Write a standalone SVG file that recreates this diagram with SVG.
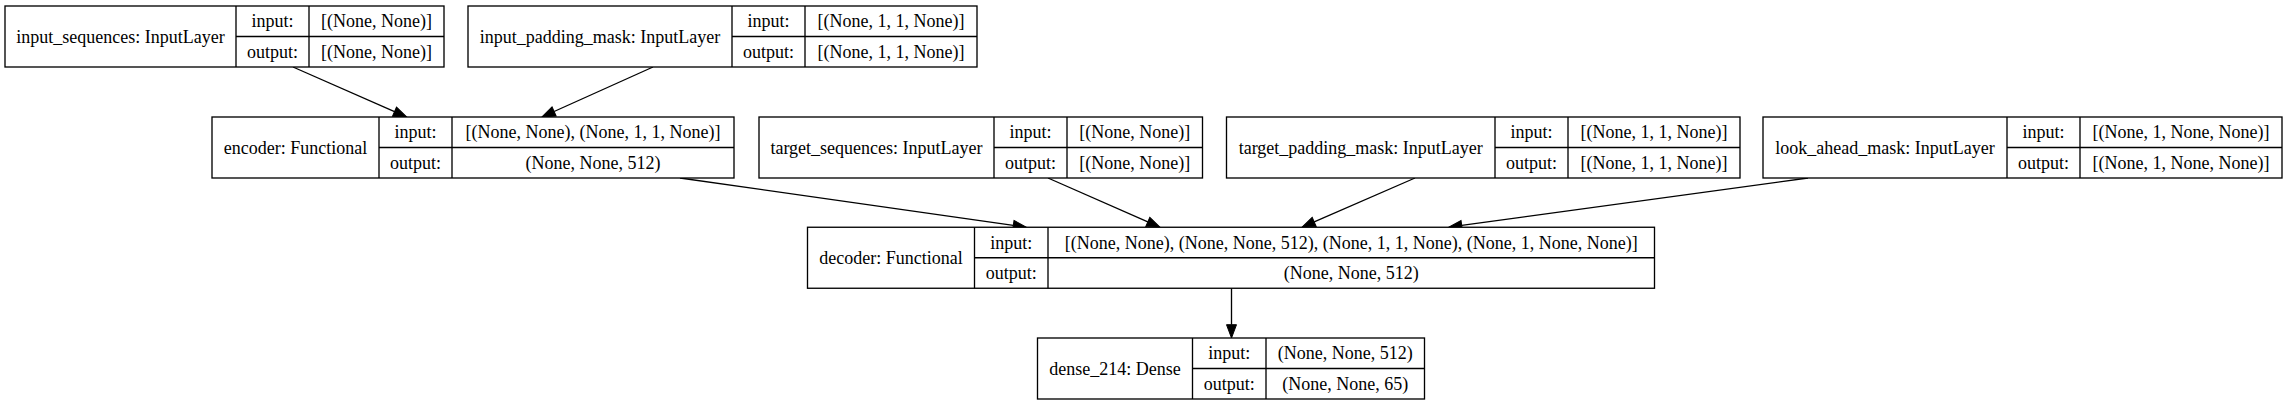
<svg xmlns="http://www.w3.org/2000/svg" width="2288" height="405" viewBox="0 0 2288 405">
<style>
.box{fill:#fff;stroke:#000;stroke-width:1.33}
.div{stroke:#000;stroke-width:1.33}
.edge{stroke:#000;stroke-width:1.33;fill:none}
text{font-family:"Liberation Serif","Times New Roman",serif;font-size:18px;fill:#000;text-anchor:middle}
</style>
<defs>
<marker id="arr" markerUnits="userSpaceOnUse" markerWidth="16" markerHeight="12" refX="0" refY="5" orient="auto" overflow="visible">
<path d="M0,0 L13.3,5 L0,10 Z" fill="#000" stroke="#000" stroke-width="1"/>
</marker>
</defs>
<rect width="2288" height="405" fill="#fff"/>

<g id="connectors">
<line class="edge" x1="293" y1="67" x2="394.5" y2="111.65" marker-end="url(#arr)"/>
<line class="edge" x1="653" y1="67" x2="554.1" y2="111.5" marker-end="url(#arr)"/>
<line class="edge" x1="680" y1="178" x2="1013.3" y2="225.4" marker-end="url(#arr)"/>
<line class="edge" x1="1048" y1="178" x2="1147.8" y2="221.9" marker-end="url(#arr)"/>
<line class="edge" x1="1415" y1="178" x2="1314.2" y2="221.9" marker-end="url(#arr)"/>
<line class="edge" x1="1808" y1="178" x2="1461.7" y2="225.4" marker-end="url(#arr)"/>
<line class="edge" x1="1231.5" y1="288.25" x2="1231.5" y2="324.7" marker-end="url(#arr)"/>
</g>

<g id="input_sequences">
<rect class="box" x="5" y="6" width="439" height="61"/>
<line class="div" x1="236" y1="6" x2="236" y2="67"/>
<line class="div" x1="309" y1="6" x2="309" y2="67"/>
<line class="div" x1="236" y1="36.5" x2="444" y2="36.5"/>
<text x="120.5" y="42.5">input_sequences: InputLayer</text>
<text x="272.5" y="27.25">input:</text>
<text x="272.5" y="57.75">output:</text>
<text x="376.5" y="27.25">[(None, None)]</text>
<text x="376.5" y="57.75">[(None, None)]</text>
</g>

<g id="input_padding_mask">
<rect class="box" x="468" y="6" width="509" height="61"/>
<line class="div" x1="732" y1="6" x2="732" y2="67"/>
<line class="div" x1="805" y1="6" x2="805" y2="67"/>
<line class="div" x1="732" y1="36.5" x2="977" y2="36.5"/>
<text x="600" y="42.5">input_padding_mask: InputLayer</text>
<text x="768.5" y="27.25">input:</text>
<text x="768.5" y="57.75">output:</text>
<text x="891" y="27.25">[(None, 1, 1, None)]</text>
<text x="891" y="57.75">[(None, 1, 1, None)]</text>
</g>

<g id="encoder">
<rect class="box" x="212" y="117" width="522" height="61"/>
<line class="div" x1="379" y1="117" x2="379" y2="178"/>
<line class="div" x1="452" y1="117" x2="452" y2="178"/>
<line class="div" x1="379" y1="147.5" x2="734" y2="147.5"/>
<text x="295.5" y="153.5">encoder: Functional</text>
<text x="415.5" y="138.25">input:</text>
<text x="415.5" y="168.75">output:</text>
<text x="593" y="138.25">[(None, None), (None, 1, 1, None)]</text>
<text x="593" y="168.75">(None, None, 512)</text>
</g>

<g id="target_sequences">
<rect class="box" x="759" y="117" width="443.5" height="61"/>
<line class="div" x1="994" y1="117" x2="994" y2="178"/>
<line class="div" x1="1067" y1="117" x2="1067" y2="178"/>
<line class="div" x1="994" y1="147.5" x2="1202.5" y2="147.5"/>
<text x="876.5" y="153.5">target_sequences: InputLayer</text>
<text x="1030.5" y="138.25">input:</text>
<text x="1030.5" y="168.75">output:</text>
<text x="1134.75" y="138.25">[(None, None)]</text>
<text x="1134.75" y="168.75">[(None, None)]</text>
</g>

<g id="target_padding_mask">
<rect class="box" x="1226.5" y="117" width="513.5" height="61"/>
<line class="div" x1="1495" y1="117" x2="1495" y2="178"/>
<line class="div" x1="1568" y1="117" x2="1568" y2="178"/>
<line class="div" x1="1495" y1="147.5" x2="1740" y2="147.5"/>
<text x="1360.75" y="153.5">target_padding_mask: InputLayer</text>
<text x="1531.5" y="138.25">input:</text>
<text x="1531.5" y="168.75">output:</text>
<text x="1654" y="138.25">[(None, 1, 1, None)]</text>
<text x="1654" y="168.75">[(None, 1, 1, None)]</text>
</g>

<g id="look_ahead_mask">
<rect class="box" x="1763" y="117" width="519" height="61"/>
<line class="div" x1="2007" y1="117" x2="2007" y2="178"/>
<line class="div" x1="2080" y1="117" x2="2080" y2="178"/>
<line class="div" x1="2007" y1="147.5" x2="2282" y2="147.5"/>
<text x="1885" y="153.5">look_ahead_mask: InputLayer</text>
<text x="2043.5" y="138.25">input:</text>
<text x="2043.5" y="168.75">output:</text>
<text x="2181" y="138.25">[(None, 1, None, None)]</text>
<text x="2181" y="168.75">[(None, 1, None, None)]</text>
</g>

<g id="decoder">
<rect class="box" x="807.5" y="227.25" width="847" height="61"/>
<line class="div" x1="974.5" y1="227.25" x2="974.5" y2="288.25"/>
<line class="div" x1="1048" y1="227.25" x2="1048" y2="288.25"/>
<line class="div" x1="974.5" y1="257.75" x2="1654.5" y2="257.75"/>
<text x="891" y="263.75">decoder: Functional</text>
<text x="1011.25" y="248.5">input:</text>
<text x="1011.25" y="279">output:</text>
<text x="1351.25" y="248.5">[(None, None), (None, None, 512), (None, 1, 1, None), (None, 1, None, None)]</text>
<text x="1351.25" y="279">(None, None, 512)</text>
</g>

<g id="dense_214">
<rect class="box" x="1037.5" y="338" width="387" height="61"/>
<line class="div" x1="1192.5" y1="338" x2="1192.5" y2="399"/>
<line class="div" x1="1266" y1="338" x2="1266" y2="399"/>
<line class="div" x1="1192.5" y1="368.5" x2="1424.5" y2="368.5"/>
<text x="1115" y="374.5">dense_214: Dense</text>
<text x="1229.25" y="359.25">input:</text>
<text x="1229.25" y="389.75">output:</text>
<text x="1345.25" y="359.25">(None, None, 512)</text>
<text x="1345.25" y="389.75">(None, None, 65)</text>
</g>
</svg>
